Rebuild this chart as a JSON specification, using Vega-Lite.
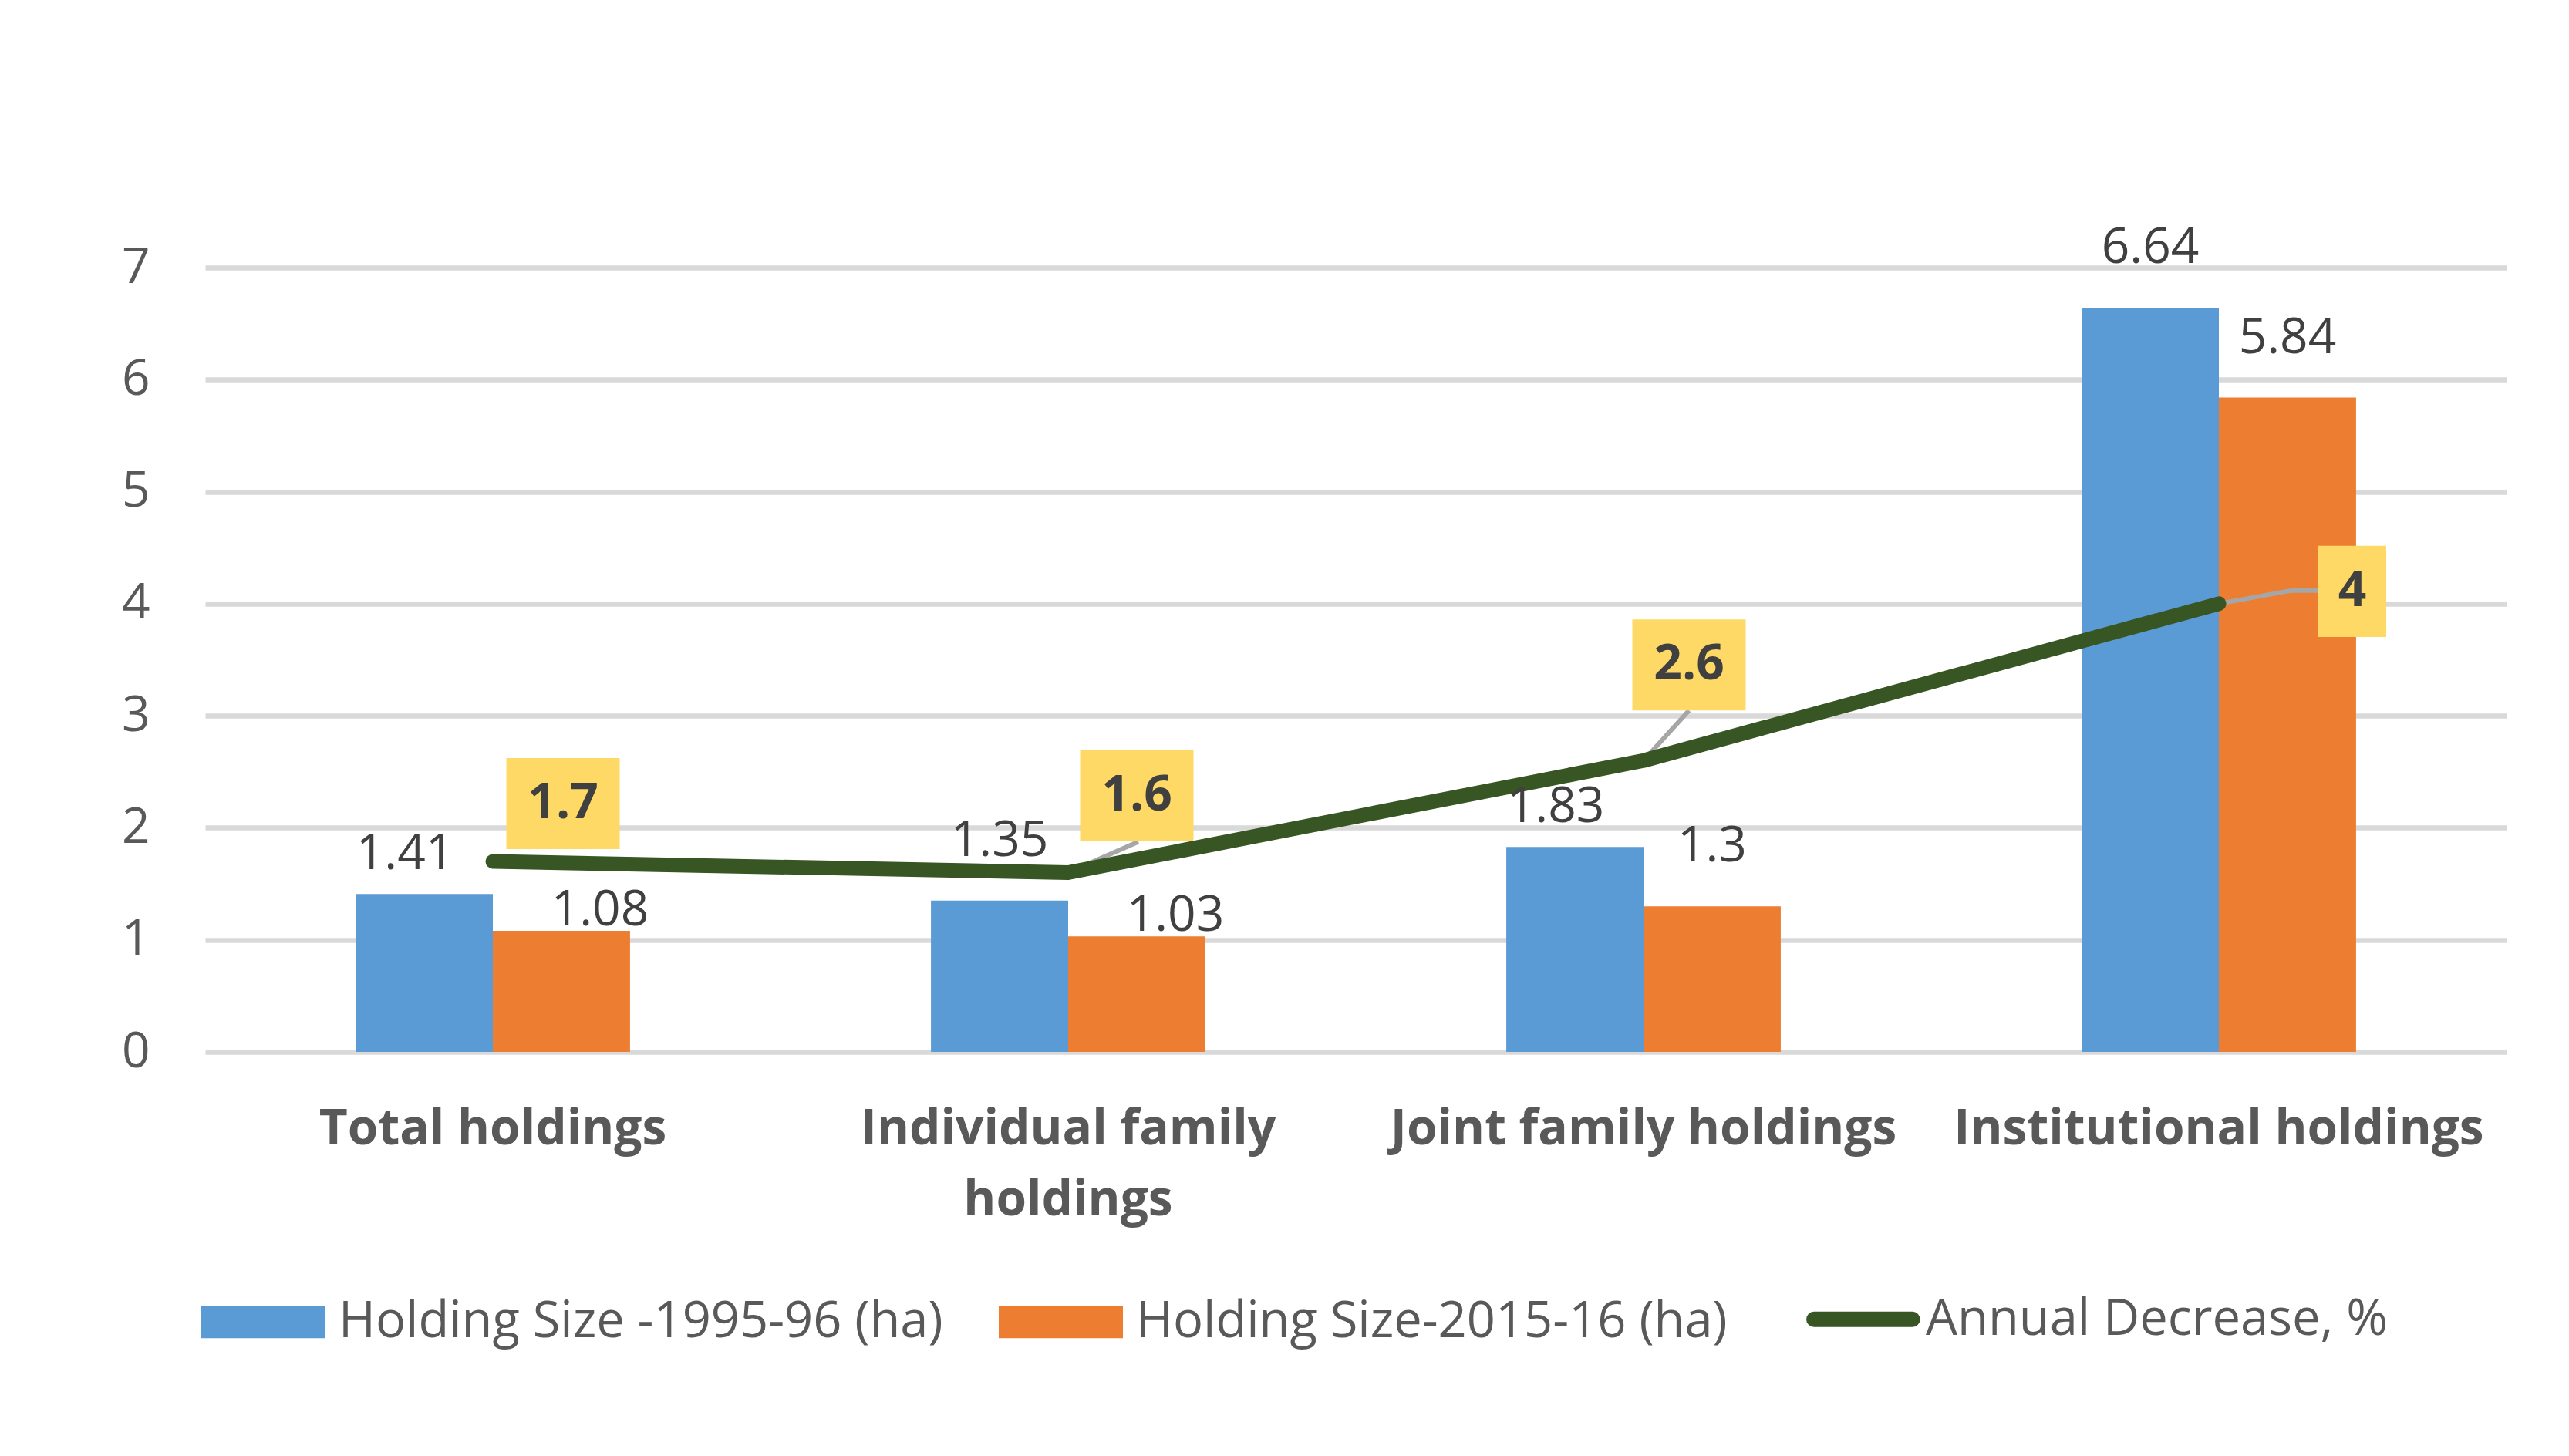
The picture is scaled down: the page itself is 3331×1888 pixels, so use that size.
{
  "$schema": "https://vega.github.io/schema/vega-lite/v6.json",
  "width": 2984,
  "height": 1017,
  "autosize": {"type": "none"},
  "padding": {"left": 266, "top": 347, "right": 81, "bottom": 524},
  "background": "white",
  "config": {"font": "Open Sans", "view": {"stroke": null}},
  "datasets": {
    "bars": [
      {"cat": "Total holdings", "series": "Holding Size -1995-96 (ha)", "size": 1.41},
      {"cat": "Total holdings", "series": "Holding Size-2015-16 (ha)", "size": 1.08},
      {"cat": "Individual family holdings", "series": "Holding Size -1995-96 (ha)", "size": 1.35},
      {"cat": "Individual family holdings", "series": "Holding Size-2015-16 (ha)", "size": 1.03},
      {"cat": "Joint family holdings", "series": "Holding Size -1995-96 (ha)", "size": 1.83},
      {"cat": "Joint family holdings", "series": "Holding Size-2015-16 (ha)", "size": 1.3},
      {"cat": "Institutional holdings", "series": "Holding Size -1995-96 (ha)", "size": 6.64},
      {"cat": "Institutional holdings", "series": "Holding Size-2015-16 (ha)", "size": 5.84}
    ],
    "line": [
      {"cat": "Total holdings", "dec": 1.7},
      {"cat": "Individual family holdings", "dec": 1.6},
      {"cat": "Joint family holdings", "dec": 2.6},
      {"cat": "Institutional holdings", "dec": 4}
    ]
  },
  "encoding": {
    "x": {
      "field": "cat",
      "type": "nominal",
      "sort": ["Total holdings", "Individual family holdings", "Joint family holdings", "Institutional holdings"],
      "scale": {"paddingInner": 0.523, "paddingOuter": 0.2615},
      "axis": {
        "title": null,
        "labelAngle": 0,
        "ticks": false,
        "domain": false,
        "grid": false,
        "labelFont": "Open Sans",
        "labelFontSize": 64,
        "labelFontWeight": "bold",
        "labelColor": "#595959",
        "labelPadding": 68,
        "labelLineHeight": 92,
        "labelLimit": 2000,
        "labelOverlap": false,
        "labelExpr": "datum.label == 'Individual family holdings' ? ['Individual family', 'holdings'] : datum.label"
      }
    }
  },
  "layer": [
    {
      "data": {"name": "bars"},
      "mark": {"type": "bar"},
      "encoding": {
        "xOffset": {"field": "series", "type": "nominal", "sort": ["Holding Size -1995-96 (ha)", "Holding Size-2015-16 (ha)"], "scale": {"paddingInner": 0, "paddingOuter": 0}},
        "y": {
          "field": "size",
          "type": "quantitative",
          "scale": {"domain": [0, 7], "nice": false, "zero": true},
          "axis": {
            "title": null,
            "values": [0, 1, 2, 3, 4, 5, 6, 7],
            "format": "d",
            "grid": true,
            "gridColor": "#D9D9D9",
            "gridWidth": 6.5,
            "domain": false,
            "ticks": false,
            "labelFont": "Open Sans",
            "labelFontSize": 64,
            "labelColor": "#595959",
            "labelPadding": 72
          }
        },
        "color": {
          "field": "series",
          "type": "nominal",
          "scale": {
            "domain": ["Holding Size -1995-96 (ha)", "Holding Size-2015-16 (ha)", "Annual Decrease, %"],
            "range": ["#5B9BD5", "#ED7D31", "#375623"]
          },
          "legend": {
            "orient": "none",
            "legendX": -5,
            "legendY": 1331,
            "direction": "horizontal",
            "title": null,
            "padding": 0,
            "symbolSize": 25921,
            "symbolType": "M-1,-0.26H1V0.26H-1Z",
            "symbolOffset": 48,
            "labelFont": "Open Sans",
            "labelFontSize": 65,
            "labelColor": "#595959",
            "labelOffset": 65,
            "columnPadding": 72,
            "labelLimit": 2000,
            "encode": {
              "symbols": {
                "update": {
                  "shape": {"signal": "datum.value === 'Annual Decrease, %' ? 'M-1.335,0H0.25' : 'M-1,-0.26H1V0.26H-1Z'"},
                  "fill": {"signal": "datum.value === 'Annual Decrease, %' ? 'transparent' : scale('color', datum.value)"},
                  "stroke": {"signal": "datum.value === 'Annual Decrease, %' ? '#375623' : 'transparent'"},
                  "strokeWidth": {"signal": "datum.value === 'Annual Decrease, %' ? 20 : 0"},
                  "strokeCap": {"value": "round"},
                  "opacity": {"value": 1},
                  "fillOpacity": {"value": 1}
                }
              },
              "labels": {
                "update": {
                  "dx": {"signal": "datum.value === 'Annual Decrease, %' ? -60 : 0"}
                }
              }
            }
          }
        }
      }
    },
    {
      "data": {"name": "line"},
      "transform": [{"filter": "datum.cat == 'Individual family holdings'"}],
      "mark": {"type": "rule", "color": "#A6A6A6", "strokeWidth": 6, "x2Offset": 91, "y2Offset": -40},
      "encoding": {
        "y": {"field": "dec", "type": "quantitative", "title": null},
        "x2": {"field": "cat"},
        "y2": {"field": "dec"}
      }
    },
    {
      "data": {"name": "line"},
      "transform": [{"filter": "datum.cat == 'Joint family holdings'"}],
      "mark": {"type": "rule", "color": "#A6A6A6", "strokeWidth": 6, "x2Offset": 59, "y2Offset": -65},
      "encoding": {
        "y": {"field": "dec", "type": "quantitative", "title": null},
        "x2": {"field": "cat"},
        "y2": {"field": "dec"}
      }
    },
    {
      "data": {"name": "line"},
      "transform": [{"filter": "datum.cat == 'Institutional holdings'"}],
      "mark": {"type": "rule", "color": "#A6A6A6", "strokeWidth": 6, "x2Offset": 93, "y2Offset": -17},
      "encoding": {
        "y": {"field": "dec", "type": "quantitative", "title": null},
        "x2": {"field": "cat"},
        "y2": {"field": "dec"}
      }
    },
    {
      "data": {"name": "line"},
      "transform": [{"filter": "datum.cat == 'Institutional holdings'"}],
      "mark": {"type": "rule", "color": "#A6A6A6", "strokeWidth": 6, "xOffset": 93, "yOffset": -17, "x2Offset": 130, "y2Offset": -17},
      "encoding": {
        "y": {"field": "dec", "type": "quantitative", "title": null},
        "x2": {"field": "cat"},
        "y2": {"field": "dec"}
      }
    },
    {
      "data": {"name": "line"},
      "mark": {"type": "line", "strokeWidth": 19, "strokeCap": "round", "strokeJoin": "round"},
      "encoding": {
        "y": {"field": "dec", "type": "quantitative", "title": null},
        "color": {"datum": "Annual Decrease, %", "type": "nominal"}
      }
    },
    {
      "data": {"name": "bars"},
      "transform": [{"filter": {"not": {"field": "size", "oneOf": [1.41, 1.83, 1.08, 1.03]}}}],
      "mark": {"type": "text", "baseline": "alphabetic", "align": "center", "dy": -58, "fontSize": 64, "color": "#404040", "font": "Open Sans"},
      "encoding": {
        "xOffset": {"field": "series", "type": "nominal", "sort": ["Holding Size -1995-96 (ha)", "Holding Size-2015-16 (ha)"]},
        "y": {"field": "size", "type": "quantitative", "title": null},
        "text": {"field": "size", "type": "nominal"}
      }
    },
    {
      "data": {"name": "bars"},
      "transform": [{"filter": {"field": "size", "oneOf": [1.41, 1.83]}}],
      "mark": {"type": "text", "baseline": "alphabetic", "align": "center", "dx": -25, "dy": -32, "fontSize": 64, "color": "#404040", "font": "Open Sans"},
      "encoding": {
        "xOffset": {"field": "series", "type": "nominal", "sort": ["Holding Size -1995-96 (ha)", "Holding Size-2015-16 (ha)"]},
        "y": {"field": "size", "type": "quantitative", "title": null},
        "text": {"field": "size", "type": "nominal"}
      }
    },
    {
      "data": {"name": "bars"},
      "transform": [{"filter": {"field": "size", "oneOf": [1.08, 1.03]}}],
      "mark": {"type": "text", "baseline": "alphabetic", "align": "center", "dx": 50, "dy": -7, "fontSize": 64, "color": "#404040", "font": "Open Sans"},
      "encoding": {
        "xOffset": {"field": "series", "type": "nominal", "sort": ["Holding Size -1995-96 (ha)", "Holding Size-2015-16 (ha)"]},
        "y": {"field": "size", "type": "quantitative", "title": null},
        "text": {"field": "size", "type": "nominal"}
      }
    },
    {
      "data": {"name": "line"},
      "transform": [{"filter": "datum.cat == 'Total holdings'"}],
      "mark": {"type": "point", "shape": "M-1,-0.803H1V0.803H-1Z", "size": 21609, "filled": true, "fill": "#FFD966", "opacity": 1, "strokeWidth": 0, "xOffset": 91, "yOffset": -75},
      "encoding": {"y": {"field": "dec", "type": "quantitative", "title": null}}
    },
    {
      "data": {"name": "line"},
      "transform": [{"filter": "datum.cat == 'Individual family holdings'"}],
      "mark": {"type": "point", "shape": "M-1,-0.803H1V0.803H-1Z", "size": 21609, "filled": true, "fill": "#FFD966", "opacity": 1, "strokeWidth": 0, "xOffset": 89, "yOffset": -100},
      "encoding": {"y": {"field": "dec", "type": "quantitative", "title": null}}
    },
    {
      "data": {"name": "line"},
      "transform": [{"filter": "datum.cat == 'Joint family holdings'"}],
      "mark": {"type": "point", "shape": "M-1,-0.803H1V0.803H-1Z", "size": 21609, "filled": true, "fill": "#FFD966", "opacity": 1, "strokeWidth": 0, "xOffset": 59, "yOffset": -124},
      "encoding": {"y": {"field": "dec", "type": "quantitative", "title": null}}
    },
    {
      "data": {"name": "line"},
      "transform": [{"filter": "datum.cat == 'Institutional holdings'"}],
      "mark": {"type": "point", "shape": "M-0.599,-0.803H0.599V0.803H-0.599Z", "size": 21609, "filled": true, "fill": "#FFD966", "opacity": 1, "strokeWidth": 0, "xOffset": 173, "yOffset": -16},
      "encoding": {"y": {"field": "dec", "type": "quantitative", "title": null}}
    },
    {
      "data": {"name": "line"},
      "transform": [{"filter": "datum.cat == 'Total holdings'"}],
      "mark": {"type": "text", "baseline": "middle", "align": "center", "dx": 91, "dy": -75, "fontSize": 64, "fontWeight": "bold", "color": "#404040", "font": "Open Sans"},
      "encoding": {"y": {"field": "dec", "type": "quantitative", "title": null}, "text": {"field": "dec", "type": "nominal"}}
    },
    {
      "data": {"name": "line"},
      "transform": [{"filter": "datum.cat == 'Individual family holdings'"}],
      "mark": {"type": "text", "baseline": "middle", "align": "center", "dx": 89, "dy": -100, "fontSize": 64, "fontWeight": "bold", "color": "#404040", "font": "Open Sans"},
      "encoding": {"y": {"field": "dec", "type": "quantitative", "title": null}, "text": {"field": "dec", "type": "nominal"}}
    },
    {
      "data": {"name": "line"},
      "transform": [{"filter": "datum.cat == 'Joint family holdings'"}],
      "mark": {"type": "text", "baseline": "middle", "align": "center", "dx": 59, "dy": -124, "fontSize": 64, "fontWeight": "bold", "color": "#404040", "font": "Open Sans"},
      "encoding": {"y": {"field": "dec", "type": "quantitative", "title": null}, "text": {"field": "dec", "type": "nominal"}}
    },
    {
      "data": {"name": "line"},
      "transform": [{"filter": "datum.cat == 'Institutional holdings'"}],
      "mark": {"type": "text", "baseline": "middle", "align": "center", "dx": 173, "dy": -16, "fontSize": 64, "fontWeight": "bold", "color": "#404040", "font": "Open Sans"},
      "encoding": {"y": {"field": "dec", "type": "quantitative", "title": null}, "text": {"field": "dec", "type": "nominal"}}
    }
  ]
}
